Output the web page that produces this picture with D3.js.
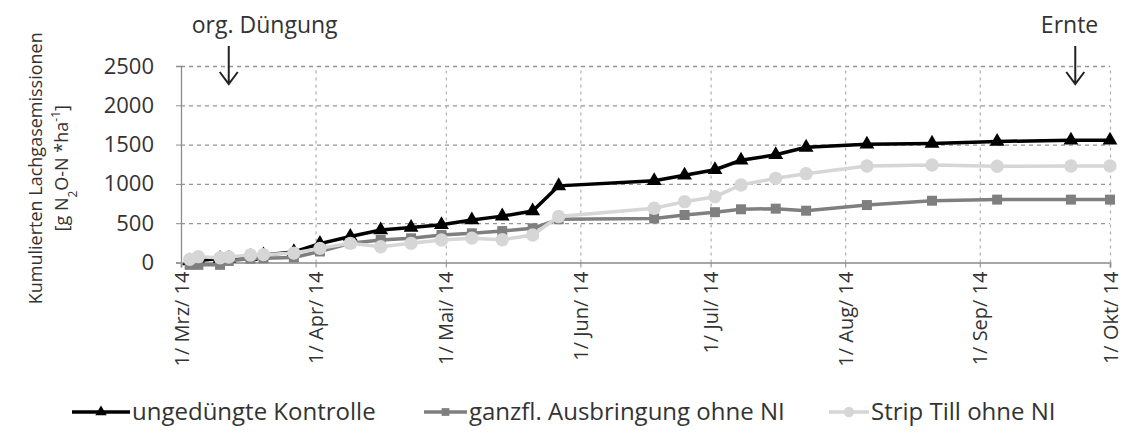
<!DOCTYPE html>
<html>
<head>
<meta charset="utf-8">
<script src="https://cdn.jsdelivr.net/npm/d3@7"></script>
<style>
  body { margin: 0; background: #fff; }
  svg text { font-family: "Open Sans", sans-serif; fill: #333; }
</style>
</head>
<body>
<svg id="chart"></svg>
<script>
// measurement dates (shared by all three series)
const dates = ["2014-03-03", "2014-03-05", "2014-03-10", "2014-03-12", "2014-03-17", "2014-03-20", "2014-03-27",
  "2014-04-02", "2014-04-09", "2014-04-16", "2014-04-23", "2014-04-30", "2014-05-07", "2014-05-14", "2014-05-21", "2014-05-27",
  "2014-06-18", "2014-06-25", "2014-07-02", "2014-07-08", "2014-07-16", "2014-07-23", "2014-08-06", "2014-08-21",
  "2014-09-05", "2014-09-22", "2014-10-01"];

const kontrolle = [20, 25, 50, 55, 75, 95, 135,
  240, 330, 413, 445, 480, 541, 590, 655, 975,
  1040, 1110, 1180, 1300, 1370, 1465, 1505, 1515, 1540, 1555, 1555];

const ganzfl = [-30, -30, -30, 20, 50, 55, 65,
  140, 244, 286, 308, 350, 371, 400, 435, 550,
  560, 604, 640, 677, 685, 659, 731, 786, 800, 800, 800];

const stripTill = [40, 74, 60, 70, 95, 100, 120,
  180, 244, 201, 244, 286, 310, 290, 350, 585,
  690, 774, 837, 986, 1071, 1130, 1228, 1240, 1225, 1228, 1228];

const seriesNames = ["ungedüngte Kontrolle", "ganzfl. Ausbringung ohne NI", "Strip Till ohne NI"];

const yTicks = [0, 500, 1000, 1500, 2000, 2500];
const monthTicks = ["2014-03-01", "2014-04-01", "2014-05-01", "2014-06-01", "2014-07-01", "2014-08-01", "2014-09-01", "2014-10-01"];
const monthLabels = ["1/ Mrz/ 14", "1/ Apr/ 14", "1/ Mai/ 14", "1/ Jun/ 14", "1/ Jul/ 14", "1/ Aug/ 14", "1/ Sep/ 14", "1/ Okt/ 14"];

const events = [
  { label: "org. Düngung", date: "2014-03-12" },
  { label: "Ernte", date: "2014-09-23" }
];

class CumChart {
  constructor(_config) {
    this.config = _config;
    this.initVis();
  }

  initVis() {
    let vis = this;
    const c = vis.config;
    vis.svg = d3.select(c.parentElement)
      .attr('width', c.containerWidth)
      .attr('height', c.containerHeight);

    const parse = d3.timeParse('%Y-%m-%d');
    vis.parse = parse;
    vis.x = d3.scaleTime()
      .domain([parse(monthTicks[0]), parse(monthTicks[monthTicks.length - 1])])
      .range([c.margin.left, c.containerWidth - c.margin.right]);
    vis.y = d3.scaleLinear()
      .domain([0, 2500])
      .range([c.margin.bottomY, c.margin.top]);

    vis.series = [
      { name: seriesNames[0], values: kontrolle, color: '#000', symbol: d3.symbolTriangle, size: 95 },
      { name: seriesNames[1], values: ganzfl, color: '#7f7f7f', symbol: d3.symbolSquare, size: 100 },
      { name: seriesNames[2], values: stripTill, color: '#d6d6d6', symbol: d3.symbolCircle, size: 140 }
    ].map(s => ({ ...s, points: s.values.map((v, i) => ({ date: parse(dates[i]), value: v })) }));

    vis.tickDates = monthTicks.map(parse);
    vis.renderVis();
  }

  renderVis() {
    let vis = this;
    const x = vis.x, y = vis.y;
    const [x0, x1] = x.range();

    // horizontal grid
    vis.svg.append('g')
      .attr('transform', `translate(${x0},0)`)
      .call(d3.axisLeft(y).tickValues(yTicks.slice(1)).tickSize(-(x1 - x0)).tickFormat(''))
      .call(g => g.select('.domain').remove())
      .call(g => g.selectAll('line').attr('stroke', '#969696').attr('stroke-dasharray', '4,4').attr('stroke-width', 1.3));

    // vertical grid
    vis.svg.append('g')
      .attr('transform', `translate(0,${y(0)})`)
      .call(d3.axisBottom(x).tickValues(vis.tickDates.slice(1)).tickSize(-(y(0) - y(2500))).tickFormat(''))
      .call(g => g.select('.domain').remove())
      .call(g => g.selectAll('line').attr('stroke', '#b0b0b0').attr('stroke-dasharray', '3,4').attr('stroke-width', 1.2));

    // y axis
    vis.svg.append('g')
      .attr('transform', `translate(${x0},0)`)
      .call(d3.axisLeft(y).tickValues(yTicks).tickSize(5).tickPadding(22).tickFormat(d3.format('d')))
      .call(g => g.select('.domain').attr('stroke', '#8c8c8c').attr('stroke-width', 1.3))
      .call(g => g.selectAll('line').attr('stroke', '#8c8c8c'))
      .call(g => g.selectAll('text').attr('font-size', 22).attr('fill', '#333').attr('font-family', '"Open Sans", sans-serif'));

    // x axis
    vis.svg.append('g')
      .attr('transform', `translate(0,${y(0)})`)
      .call(d3.axisBottom(x).tickValues(vis.tickDates).tickSize(5).tickFormat((d, i) => monthLabels[i]))
      .call(g => g.select('.domain').attr('stroke', '#a6a6a6').attr('stroke-width', 2))
      .call(g => g.selectAll('line').attr('stroke', '#8c8c8c'))
      .call(g => g.selectAll('text')
        .attr('font-size', 20).attr('fill', '#333').attr('font-family', '"Open Sans", sans-serif')
        .attr('text-anchor', 'end')
        .attr('dy', '0.35em')
        .attr('transform', 'translate(0,9) rotate(-90)')
        .attr('x', 0).attr('y', 0));

    // series
    const line = d3.line().x(d => x(d.date)).y(d => y(d.value));
    vis.series.forEach(s => {
      const g = vis.svg.append('g');
      g.append('path')
        .datum(s.points)
        .attr('d', line)
        .attr('fill', 'none')
        .attr('stroke', s.color)
        .attr('stroke-width', 3.5);
      g.selectAll('path.mark')
        .data(s.points)
        .join('path')
        .attr('class', 'mark')
        .attr('d', d3.symbol(s.symbol).size(s.size))
        .attr('transform', d => `translate(${x(d.date)},${y(d.value)})`)
        .attr('fill', s.color);
    });

    // event annotations: org. Düngung left aligned, Ernte right aligned
    events.forEach((e, i) => {
      const ex = x(vis.parse(e.date));
      vis.svg.append('path')
        .attr('d', `M${ex},46 L${ex},84 M${ex - 9},72 L${ex},84 L${ex + 9},72`)
        .attr('fill', 'none')
        .attr('stroke', '#222')
        .attr('stroke-width', 2);
      vis.svg.append('text')
        .attr('x', i === 0 ? ex - 37 : ex + 23)
        .attr('y', 33)
        .attr('text-anchor', i === 0 ? 'start' : 'end')
        .attr('font-size', 23)
        .text(e.label);
    });

    // y title
    const yt = vis.svg.append('text')
      .attr('transform', `translate(42,${(y(0) + y(2500)) / 2 + 4}) rotate(-90)`)
      .attr('text-anchor', 'middle')
      .attr('font-size', 18);
    yt.append('tspan').attr('x', 0).attr('dy', 0).text('Kumulierten Lachgasemissionen');
    const l2 = yt.append('tspan').attr('x', 0).attr('dy', 26);
    l2.append('tspan').text('[g N');
    l2.append('tspan').attr('font-size', 12).attr('baseline-shift', 'sub').text('2');
    l2.append('tspan').text('O-N *ha');
    l2.append('tspan').attr('font-size', 12).attr('baseline-shift', 'super').text('-1');
    l2.append('tspan').text(']');

    // legend
    const legendX = [72, 424, 829];
    const legendLen = [58, 43, 40];
    const legend = vis.svg.append('g').attr('transform', 'translate(0,412)');
    vis.series.forEach((s, i) => {
      const item = legend.append('g').attr('transform', `translate(${legendX[i]},0)`);
      item.append('line').attr('x1', 0).attr('x2', legendLen[i]).attr('y1', 0).attr('y2', 0)
        .attr('stroke', s.color).attr('stroke-width', 3.5);
      item.append('path').attr('d', d3.symbol(s.symbol).size(s.size * 0.6))
        .attr('transform', `translate(${legendLen[i] / 2},0)`).attr('fill', s.color);
      item.append('text').attr('x', legendLen[i] + 2).attr('dy', '0.35em')
        .attr('font-size', 24).text(s.name);
    });
  }
}

new CumChart({
  parentElement: '#chart',
  containerWidth: 1125,
  containerHeight: 441,
  margin: { left: 181, right: 15, top: 66, bottomY: 262.5 }
});
</script>
</body>
</html>
